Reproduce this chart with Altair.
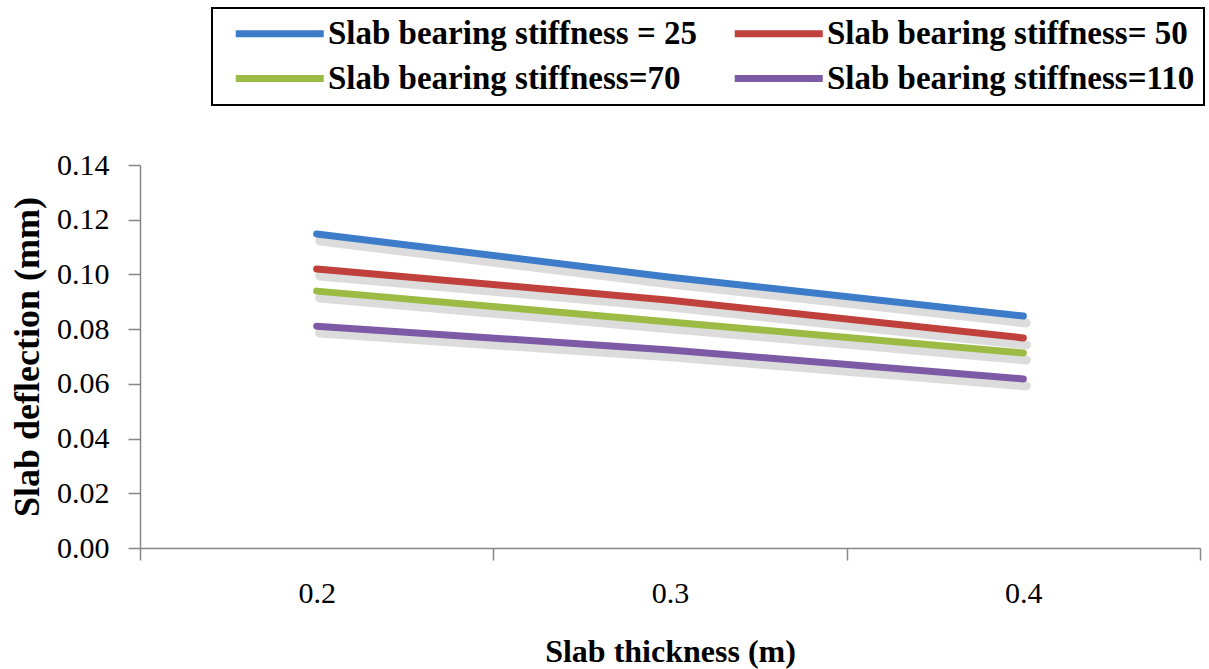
import altair as alt
import pandas as pd

thickness = ["0.2", "0.3", "0.4"]
series_names = [
    "Slab bearing stiffness = 25",
    "Slab bearing stiffness= 50",
    "Slab bearing stiffness=70",
    "Slab bearing stiffness=110",
]
s25 = [0.1148, 0.0990, 0.0848]
s50 = [0.1020, 0.0906, 0.0768]
s70 = [0.0939, 0.0826, 0.0713]
s110 = [0.0811, 0.0724, 0.0618]
colors = ["#3d7cc9", "#c0403b", "#9bbb44", "#7d5aa6"]

rows = []
for name, vals in zip(series_names, [s25, s50, s70, s110]):
    for t, v in zip(thickness, vals):
        rows.append({"thickness": t, "deflection": v, "series": name})
df = pd.DataFrame(rows)

FONT = "Liberation Serif"

x_enc = alt.X(
    "thickness:O",
    bandPosition=0.5,
    scale=alt.Scale(type="band", paddingInner=0, paddingOuter=0),
    sort=thickness,
    axis=alt.Axis(
        title="Slab thickness (m)",
        tickBand="extent",
        labelAngle=0,
        tickSize=12,
        labelPadding=18,
        titlePadding=28,
        labelFontSize=30,
        titleFontSize=32,
        titleFontWeight="bold",
    ),
)
y_enc = alt.Y(
    "deflection:Q",
    scale=alt.Scale(domain=[0, 0.14]),
    axis=alt.Axis(
        title="Slab deflection (mm)",
        values=[0, 0.02, 0.04, 0.06, 0.08, 0.10, 0.12, 0.14],
        format=".2f",
        tickSize=12,
        labelPadding=19,
        titlePadding=10,
        labelFontSize=30,
        titleFontSize=36,
        titleFontWeight="bold",
        grid=False,
    ),
)

shadow = alt.Chart(df).mark_line(
    color="#9a9a9a", strokeWidth=9, opacity=0.35, strokeCap="round", yOffset=7, xOffset=3
).encode(x=x_enc, y=y_enc, detail="series:N")

lines = alt.Chart(df).mark_line(strokeWidth=7, strokeCap="round").encode(
    x=x_enc,
    y=y_enc,
    color=alt.Color(
        "series:N",
        sort=series_names,
        scale=alt.Scale(domain=series_names, range=colors),
        legend=alt.Legend(
            title=None,
            orient="none",
            legendX=72,
            legendY=-157,
            columns=2,
            columnPadding=22,
            rowPadding=11,
            symbolType="M-0.2,0H9.8",
            symbolSize=310,
            symbolStrokeWidth=7,
            labelFontSize=33,
            labelFontWeight="bold",
            labelLimit=600,
            labelOffset=74,
            strokeColor="black",
            padding=9,
            direction="horizontal",
        ),
    ),
)

chart = (
    alt.layer(shadow, lines)
    .properties(
        width=1060,
        height=383,
        background="white",
        autosize=alt.AutoSizeParams(type="none"),
        padding={"left": 140, "top": 165, "right": 9, "bottom": 121},
    )
    .configure_view(stroke=None)
    .configure_axis(
        domainColor="#868686",
        tickColor="#868686",
        domainWidth=1.5,
        tickWidth=1.5,
        labelFont=FONT,
        titleFont=FONT,
        labelColor="black",
        titleColor="black",
    )
    .configure_legend(labelFont=FONT, labelColor="black", strokeWidth=2)
)

chart.save("out.html", embed_options={"renderer": "svg", "actions": False})
